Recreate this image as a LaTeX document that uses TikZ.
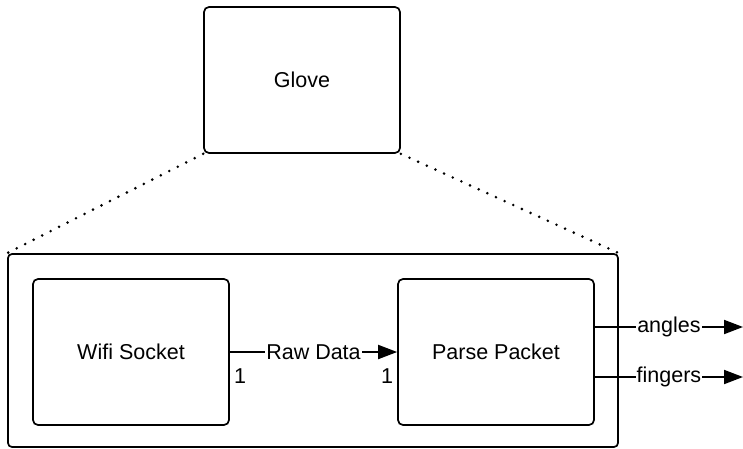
\documentclass[tikz,border=0pt]{standalone}
\usepackage{fontspec}
\setmainfont{Liberation Sans}
\usepackage{tikz}
\usetikzlibrary{arrows.meta, calc}
\tikzset{>={Triangle[length=19pt,width=14pt]}, font=\fontsize{21.5}{26}\selectfont}
\tikzset{block/.style={shape=rectangle, draw, rounded corners=5pt,
    line width=1.7pt, minimum width=196pt, minimum height=146pt}}
\tikzset{zoomline/.style={line width=2.9pt, line cap=round,
    dash pattern=on 0pt off 9.5pt}}
\tikzset{flow/.style={->, line width=1.9pt}}
\tikzset{flowlabel/.style={fill=white, inner sep=1pt}}

\begin{document}
\begin{tikzpicture}[x=1pt,y=-1pt]
    \useasboundingbox (0,0) rectangle (743,449);
    \node[block] (glove) at (302,80) {Glove};
    \node[block, rounded corners=4pt, minimum width=610pt,
      minimum height=193pt] (inside) at (313,350.5) {};
    \node[block] (wifi) at (131,352) {Wifi Socket};
    \node[block] (parse) at (496,352) {Parse Packet};
    % dotted zoom lines from the glove down to its insides
    \draw[zoomline] (glove.south west) -- (inside.north west);
    \draw[zoomline] (glove.south east) -- (inside.north east);
    \draw[flow] (wifi) -- node[flowlabel] {Raw Data} (parse);
    \node (wifiend) at (240,376) {1};
    \node (parseend) at (387,376) {1};
    \coordinate (anglesout) at (743,327);
    \coordinate (fingersout) at (743,377);
    \draw[flow] (parse.east |- anglesout) -- node[flowlabel] {angles} (anglesout);
    \draw[flow] (parse.east |- fingersout) -- node[flowlabel] {fingers} (fingersout);
  \end{tikzpicture}
\end{document}
